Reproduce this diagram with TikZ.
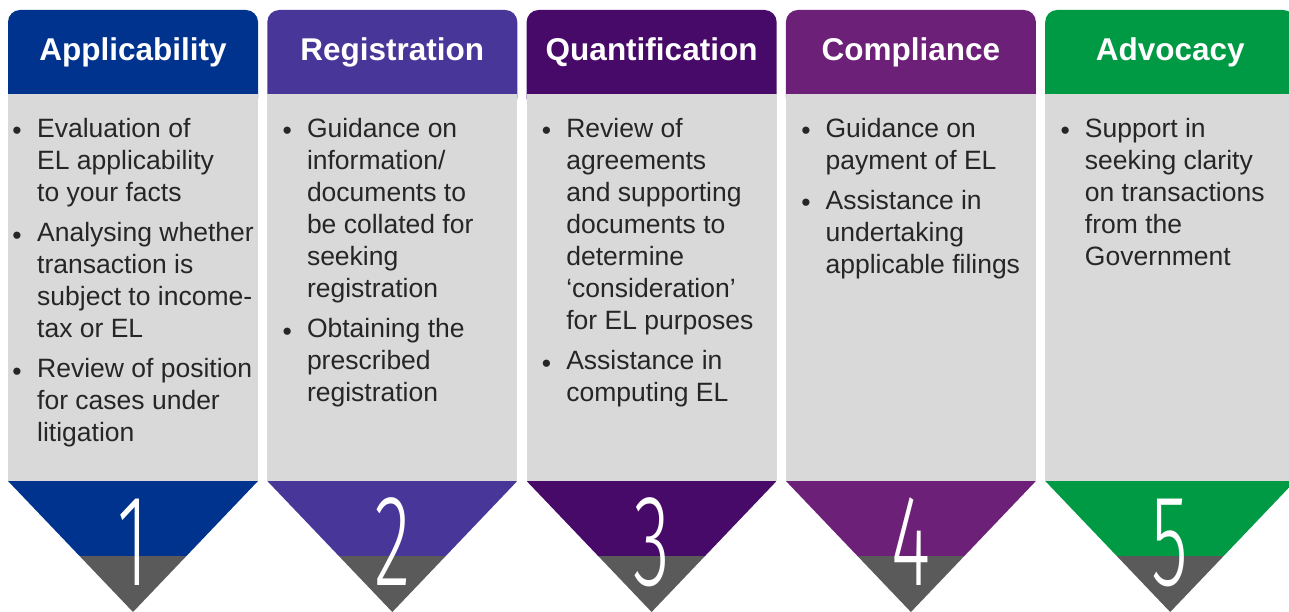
\documentclass[tikz,border=0pt]{standalone}
\usepackage{fontspec}
\usepackage{graphicx}
\setmainfont{Liberation Sans}
% light face for the large numerals, first one available
\IfFontExistsTF{Fira Sans Light}{\newfontfamily\numfont{Fira Sans Light}}{%
  \IfFontExistsTF{Lato Light}{\newfontfamily\numfont{Lato Light}}{%
    \IfFontExistsTF{DejaVu Sans ExtraLight}{\newfontfamily\numfont{DejaVu Sans ExtraLight}}{%
      \newfontfamily\numfont{DejaVu Sans}}}}
\definecolor{c1}{HTML}{00338D}
\definecolor{c2}{HTML}{483698}
\definecolor{c3}{HTML}{470A68}
\definecolor{c4}{HTML}{6D2077}
\definecolor{c5}{HTML}{009A44}
\definecolor{body}{HTML}{D9D9D9}
\definecolor{dark}{HTML}{5A5A5A}
\definecolor{txt}{HTML}{262626}
\begin{document}
\begin{tikzpicture}[x=1pt,y=-1pt,
  head/.style={font=\fontsize{31.5}{36}\selectfont\bfseries, text=white, inner sep=0, anchor=base},
  % item text: placed by the baseline of its first line
  item/.style={font=\fontsize{26.5}{32}\selectfont, text=txt, align=left, anchor=north west,
    inner sep=0, yshift=19.4pt, execute at begin node=\strut},
  dot/.style={font=\fontsize{26.5}{32}\selectfont, text=txt, anchor=base, inner sep=0},
  digit/.style={font=\fontsize{130}{130}\selectfont\numfont, text=white, anchor=base, inner sep=0}]
\useasboundingbox (0,0) rectangle (1289,612);
\clip (0,0) rectangle (1289,612);
% five columns: header tab, grey body, pointer with numeral
\foreach \i/\c/\t in {1/c1/Applicability,2/c2/Registration,3/c3/Quantification,4/c4/Compliance,5/c5/Advocacy}{
  \pgfmathsetmacro\L{8+259.3*(\i-1)}
  \pgfmathsetmacro\M{\L+125}
  \fill[\c, rounded corners=12pt] (\L,10) rectangle ++(250,100);
  \fill[body] (\L,94) rectangle ++(250,387);
  \begin{scope}
    \clip (\L,481) -- ++(250,0) -- (\M,612) -- cycle;
    \fill[\c] (\L,481) rectangle ++(250,75);
    \fill[dark] (\L,556) rectangle ++(250,60);
  \end{scope}
  \node[head] (h\i) at (\M,61) {\t};
  \node[digit] (d\i) at (\M,585) {\scalebox{0.58}[1]{\i}};
}
% column 1
\node[dot] (b11) at (17,140) {•};
\node[item] (a11) at (37,137) {Evaluation of\\EL applicability\\to your facts};
\node[dot] (b12) at (17,244) {•};
\node[item] (a12) at (37,241) {Analysing whether\\transaction is\\subject to income-\\tax or EL};
\node[dot] (b13) at (17,380) {•};
\node[item] (a13) at (37,377) {Review of position\\for cases under\\litigation};
% column 2
\node[dot] (b21) at (287.3,140) {•};
\node[item] (a21) at (306.8,137) {Guidance on\\information/\\documents to\\be collated for\\seeking\\registration};
\node[dot] (b22) at (287.3,340) {•};
\node[item] (a22) at (306.8,337) {Obtaining the\\prescribed\\registration};
% column 3
\node[dot] (b31) at (546.6,140) {•};
\node[item] (a31) at (566.1,137) {Review of\\agreements\\and supporting\\documents to\\determine\\‘consideration’\\for EL purposes};
\node[dot] (b32) at (546.6,372) {•};
\node[item] (a32) at (566.1,369) {Assistance in\\computing EL};
% column 4
\node[dot] (b41) at (805.9,140) {•};
\node[item] (a41) at (825.4,137) {Guidance on\\payment of EL};
\node[dot] (b42) at (805.9,212) {•};
\node[item] (a42) at (825.4,209) {Assistance in\\undertaking\\applicable filings};
% column 5
\node[dot] (b51) at (1065.2,140) {•};
\node[item] (a51) at (1084.7,137) {Support in\\seeking clarity\\on transactions\\from the\\Government};
\end{tikzpicture}
\end{document}
